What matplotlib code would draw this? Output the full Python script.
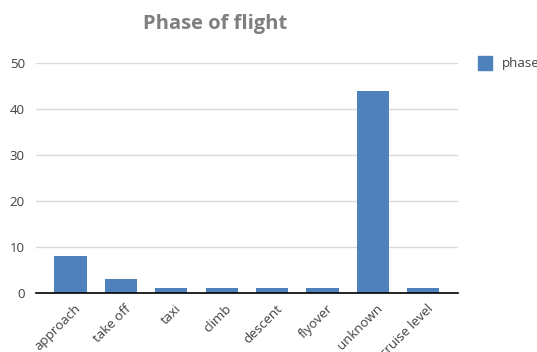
import matplotlib
matplotlib.use("Agg")
import matplotlib.pyplot as plt
from matplotlib.patches import Rectangle
import matplotlib.transforms as mtransforms

categories = ["approach", "take off", "taxi", "climb", "descent", "flyover", "unknown", "cruise level"]
values = [8, 3, 1, 1, 1, 1, 44, 1]
yticks = [0, 10, 20, 30, 40, 50]
series_name = "phase"

plt.rcParams['font.family'] = ['Open Sans', 'DejaVu Sans']
fig = plt.figure(figsize=(5.37, 3.52), dpi=100)
ax = fig.add_axes([36/537, 59/352, (458-36)/537, (293-63)/352])
x = range(len(categories))
ax.bar(x, values, width=0.64, color="#4F81BD", zorder=3)
ax.set_xlim(-0.685, len(categories) - 1 + 0.69)
ax.set_ylim(0, 50)
ax.set_yticks(yticks)
ax.set_xticks(list(x))
ax.set_xticklabels(categories, rotation=45, ha="right", va="center", rotation_mode="anchor")
ax.tick_params(axis="both", length=0, labelsize=9.5, colors="#404040")
ax.tick_params(axis="y", pad=8)
ax.tick_params(axis="x", pad=10)
offset = mtransforms.ScaledTranslation(8/100, 0, fig.dpi_scale_trans)
for lbl in ax.get_xticklabels():
    lbl.set_transform(lbl.get_transform() + offset)
ax.grid(axis="y", color="#D9D9D9", linewidth=1, zorder=0)
for s in ["top", "right", "left"]:
    ax.spines[s].set_visible(False)
ax.spines["bottom"].set_color("#000000")
ax.spines["bottom"].set_linewidth(1.2)
ax.spines["bottom"].set_zorder(4)

fig.text(215/537, 1 - 24/352, "Phase of flight", ha="center", va="center",
         fontsize=14.5, fontweight="bold", color="#7F7F7F")

fig.patches.append(Rectangle((478/537, 1 - 70/352), 14/537, 14/352,
                             transform=fig.transFigure, color="#4F81BD"))
fig.text(502/537, 1 - 63/352, series_name, ha="left", va="center",
         fontsize=9.5, color="#404040")

fig.savefig("out.png", dpi=100)
